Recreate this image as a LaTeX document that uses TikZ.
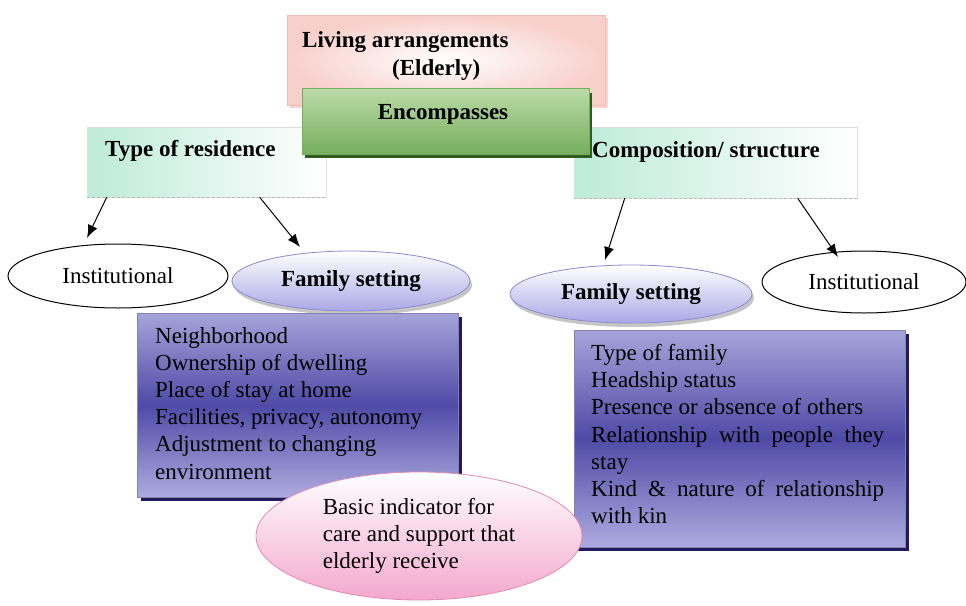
\documentclass[tikz,border=0pt]{standalone}
\usepackage{fontspec}
\setmainfont{Liberation Serif}
\usetikzlibrary{shapes.geometric,calc,arrows.meta}
\definecolor{pinkb}{HTML}{F2A9A0}
\definecolor{greentop}{HTML}{BBDBA8}
\definecolor{greenbot}{HTML}{76AE5E}
\definecolor{greensh}{HTML}{2F5A22}
\definecolor{cyanl}{HTML}{BDEBDA}
\definecolor{lavb}{HTML}{A9A8E6}
\definecolor{lavd}{HTML}{8C8AD0}
\definecolor{purtop}{HTML}{A6A4DA}
\definecolor{purmid}{HTML}{4F4AA6}
\definecolor{purbot}{HTML}{ADABDF}
\definecolor{navy}{HTML}{1E1C5E}
\definecolor{pinkel}{HTML}{F3A8CE}
\definecolor{pinkeld}{HTML}{E28AB4}
\begin{document}
\begin{tikzpicture}[x=1pt,y=-1pt,
  txt/.style={font=\fontsize{23}{27.2}\selectfont, inner sep=0pt, align=left},
  btxt/.style={font=\fontsize{23}{27.2}\selectfont\bfseries, inner sep=0pt, align=left},
  arr/.style={-{Latex[length=13pt,width=10pt]}, line width=1pt},
  lbox/.style={draw=gray!25, line width=0.6pt, inner sep=0pt, left color=cyanl, right color=white},
  fam/.style={ellipse, draw=lavd, line width=0.8pt, inner sep=0pt, top color=white, bottom color=lavb,
     font=\fontsize{23}{27.2}\selectfont\bfseries},
  inst/.style={ellipse, draw=black, line width=1pt, fill=white, inner sep=0pt,
     font=\fontsize{23}{27.2}\selectfont},
  pbox/.style={inner sep=0pt, draw=purtop!80!black, line width=0.5pt, top color=purtop, bottom color=purbot, middle color=purmid},
]
\useasboundingbox (0,0) rectangle (966,605);
\fill[white] (0,0) rectangle (966,605);

% top box
\fill[pinkb!50] (290,18) rectangle (608,108);
\node[draw=pinkb!80, line width=0.6pt, inner sep=0pt, minimum width=318pt, minimum height=90pt,
  inner color=white, outer color=pinkb!55] (la) at (446,60) {};

% type / composition boxes
\node[lbox, minimum width=239pt, minimum height=70pt] (tr) at (206.5,162) {};
\draw[gray!55, line width=1.6pt, dash pattern=on 3pt off 2pt] (tr.south west) -- (tr.south east);
\node[lbox, minimum width=283pt, minimum height=71pt] (cs) at (715.5,162.5) {};
\draw[gray!55, line width=1.6pt, dash pattern=on 3pt off 2pt] (cs.south west) -- (cs.south east);

% green box
\fill[greensh] (305,93) rectangle (592,158);
\node[draw=greenbot, line width=0.5pt, inner sep=0pt, minimum width=287pt, minimum height=66pt,
  top color=greentop, bottom color=greenbot] (en) at (445.5,121) {};

% ellipses
\node[inst, minimum width=220pt, minimum height=64pt] (i1) at (118,276) {Institutional};
\fill[gray!45] (353,285) ellipse [x radius=119pt, y radius=30pt];
\node[fam, minimum width=238pt, minimum height=60pt] (f1) at (351,281) {Family setting};
\fill[gray!45] (633,298) ellipse [x radius=121pt, y radius=29pt];
\node[fam, minimum width=242pt, minimum height=58pt] (f2) at (631,294) {Family setting};
\node[inst, minimum width=204pt, minimum height=62pt] (i2) at (864,282) {Institutional};

% arrows
\draw[arr] ($(tr.south west)+(20,0)$) -- ($(i1.center)+(-31,-38)$);
\draw[arr] ($(tr.south west)+(173,0)$) -- ($(f1.center)+(-51,-34)$);
\draw[arr] ($(cs.south west)+(51,0)$) -- ($(f2.center)+(-26,-34)$);
\draw[arr] ($(cs.south west)+(224,0)$) -- ($(i2.center)+(-26,-25)$);

% purple boxes
\fill[navy] (141,317) rectangle (462,501);
\node[pbox, minimum width=321pt, minimum height=184pt] (b1) at (297.5,405) {};
\fill[navy] (578,334) rectangle (909,551);
\node[pbox, minimum width=331pt, minimum height=217pt] (b2) at (739.5,438.5) {};

% bottom ellipse
\node[ellipse, draw=pinkeld, line width=0.8pt, inner sep=0pt, top color=white, bottom color=pinkel,
  minimum width=326pt, minimum height=128pt, align=left, font=\fontsize{23}{27.2}\selectfont] (bi) at (419,536)
  {Basic indicator for\\care and support that\\elderly receive};

% texts
\node[btxt, anchor=west] (lat) at (302,42) {Living arrangements};
\node[btxt, anchor=west] (elt) at (392,70) {(Elderly)};
\node[btxt] (ent) at (443,114) {Encompasses};
\node[btxt, anchor=west] (trt) at (105,151) {Type of residence};
\node[btxt, anchor=west] (cst) at (592,152) {Composition/ structure};

\node[txt, anchor=north west] (b1t) at (155,327) {Neighborhood\\Ownership of dwelling\\Place of stay at home\\Facilities, privacy, autonomy\\Adjustment to changing\\environment};
\node[txt, anchor=north west] (b2t) at (591,344) {Type of family\\Headship status\\Presence or absence of others\\\makebox[293pt][s]{Relationship with people they}\\stay\\\makebox[293pt][s]{Kind \& nature of relationship}\\with kin};
\end{tikzpicture}
\end{document}
